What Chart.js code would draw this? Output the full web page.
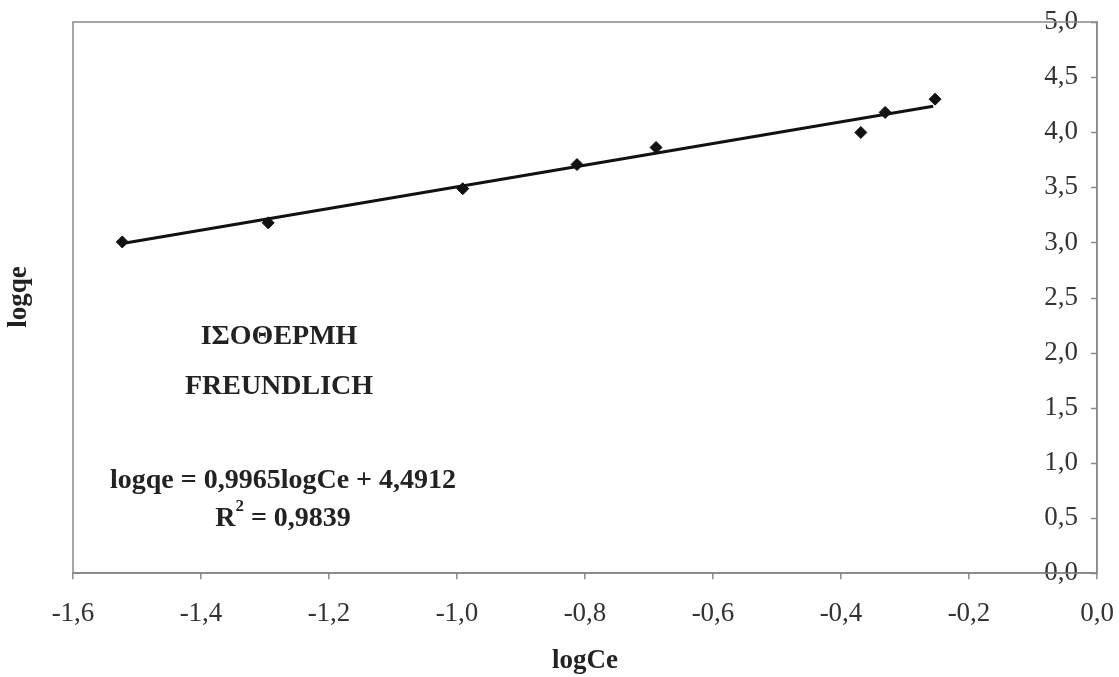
<!DOCTYPE html>
<html>
<head>
<meta charset="utf-8">
<title>Ισόθερμη Freundlich</title>
<script src="https://cdn.jsdelivr.net/npm/chart.js@4.4.1/dist/chart.umd.min.js"></script>
<style>
  html, body { margin: 0; padding: 0; background: #fff; }
  #wrap { width: 1119px; height: 677px; }
</style>
</head>
<body>
<div id="wrap"><canvas id="chart" width="1119" height="677"></canvas></div>
<script>
// measured points (logCe, logqe)
const logCe = [-1.523, -1.295, -0.991, -0.8125, -0.689, -0.369, -0.331, -0.253];
const logqe = [3.005, 3.178, 3.488, 3.707, 3.862, 3.998, 4.180, 4.300];

// linear trend line, end points
const trendX = [-1.523, -0.256];
const trendY = [2.99, 4.235];

const xRange = [-1.6, 0.0];
const yRange = [0.0, 5.0];
const xStep = 0.2;
const yStep = 0.5;

const titleLines = ['ΙΣΟΘΕΡΜΗ', 'FREUNDLICH'];
const eqText = 'logqe = 0,9965logCe + 4,4912';
const r2Text = '0,9839';

const SERIF = '"Liberation Serif", "Times New Roman", serif';
const AXIS = '#8a8a8a';
const fmt = v => Number(v).toFixed(1).replace('.', ',');

const framePlugin = {
  id: 'frame',
  beforeDatasetsDraw(chart) {
    const { ctx, chartArea: a } = chart;
    ctx.save();
    ctx.strokeStyle = AXIS;
    ctx.lineWidth = 1.5;
    ctx.strokeRect(a.left, a.top, a.right - a.left, a.bottom - a.top);
    // y ticks point inward from the right-hand axis
    const ys = chart.scales.y;
    ys.ticks.forEach(t => {
      const py = Math.round(ys.getPixelForValue(t.value)) + 0.5;
      ctx.beginPath();
      ctx.moveTo(a.right - 6, py);
      ctx.lineTo(a.right, py);
      ctx.stroke();
    });
    ctx.restore();
  },
  afterDraw(chart) {
    const { ctx } = chart;
    const big = 'bold 28px ' + SERIF;
    const sup = 'bold 17px ' + SERIF;
    ctx.save();
    ctx.fillStyle = '#222';
    ctx.textAlign = 'center';
    ctx.textBaseline = 'middle';

    // y axis title on the left
    ctx.save();
    ctx.translate(19, 297);
    ctx.rotate(-Math.PI / 2);
    ctx.font = 'bold 27px ' + SERIF;
    ctx.fillText('logqe', 0, 0);
    ctx.restore();

    ctx.font = big;
    ctx.fillText(titleLines[0], 279, 337);
    ctx.fillText(titleLines[1], 279, 387);
    ctx.fillText(eqText, 283, 481);

    // R² = ...
    const base = 'R';
    const rest = ' = ' + r2Text;
    const wR = ctx.measureText(base).width;
    const wRest = ctx.measureText(rest).width;
    ctx.font = sup;
    const wSup = ctx.measureText('2').width;
    const x0 = 283 - (wR + wSup + wRest) / 2;
    ctx.textAlign = 'left';
    ctx.font = big;
    ctx.fillText(base, x0, 519);
    ctx.font = sup;
    ctx.fillText('2', x0 + wR, 507);
    ctx.font = big;
    ctx.fillText(rest, x0 + wR + wSup, 519);
    ctx.restore();
  }
};

new Chart(document.getElementById('chart'), {
  type: 'scatter',
  data: {
    datasets: [
      {
        label: 'logqe',
        data: logCe.map((x, i) => ({ x, y: logqe[i] })),
        showLine: false,
        pointStyle: 'rectRot',
        pointRadius: 6,
        pointBackgroundColor: '#111',
        pointBorderColor: '#111',
        order: 1
      },
      {
        label: 'trend',
        data: trendX.map((x, i) => ({ x, y: trendY[i] })),
        showLine: true,
        borderColor: '#111',
        borderWidth: 3,
        pointRadius: 0,
        fill: false,
        order: 2
      }
    ]
  },
  options: {
    responsive: false,
    animation: false,
    layout: { padding: { left: 73, right: 22, top: 22, bottom: 0 } },
    plugins: {
      legend: { display: false },
      tooltip: { enabled: false }
    },
    scales: {
      x: {
        type: 'linear',
        position: 'bottom',
        min: xRange[0],
        max: xRange[1],
        afterFit: s => { s.paddingLeft = 0; s.paddingRight = 0; },
        ticks: {
          stepSize: xStep,
          callback: v => fmt(v),
          font: { family: SERIF, size: 27 },
          color: '#333',
          padding: 19,
          maxRotation: 0
        },
        grid: { drawOnChartArea: false, drawTicks: true, tickLength: 6, color: AXIS, lineWidth: 1.5 },
        border: { display: true, color: AXIS, width: 1.5 },
        title: {
          display: true,
          text: 'logCe',
          font: { family: SERIF, size: 27, weight: 'bold' },
          color: '#222',
          padding: { top: -5, bottom: 0 }
        }
      },
      y: {
        type: 'linear',
        position: 'right',
        min: yRange[0],
        max: yRange[1],
        afterFit: s => { s.width = 0; s.paddingTop = 0; s.paddingBottom = 0; },
        ticks: {
          stepSize: yStep,
          callback: v => fmt(v),
          font: { family: SERIF, size: 27 },
          color: '#333',
          mirror: true,
          padding: -19
        },
        grid: { drawOnChartArea: false, drawTicks: false },
        border: { display: true, color: AXIS, width: 1.5 }
      }
    }
  },
  plugins: [framePlugin]
});
</script>
</body>
</html>
